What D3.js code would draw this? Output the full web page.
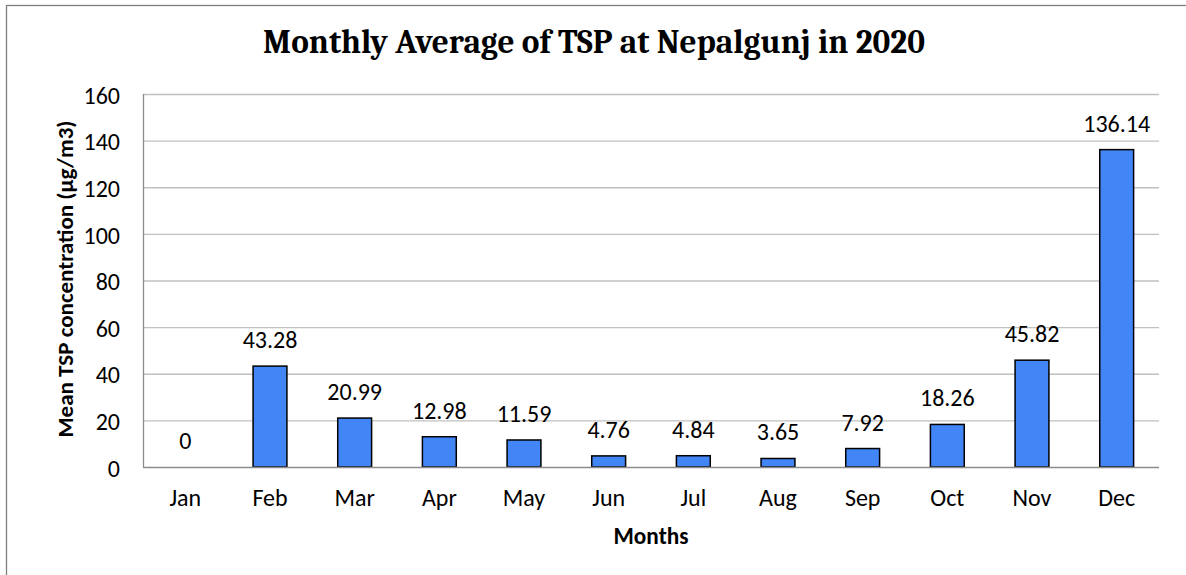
<!DOCTYPE html>
<html>
<head>
<meta charset="utf-8">
<script src="https://cdn.jsdelivr.net/npm/d3@7"></script>
<style>
  html, body { margin: 0; padding: 0; background: #fff; }
  svg { display: block; }
</style>
</head>
<body>
<svg id="chart" width="1186" height="575"></svg>
<script>
// Monthly mean TSP values, Nepalgunj 2020
const months = ["Jan","Feb","Mar","Apr","May","Jun","Jul","Aug","Sep","Oct","Nov","Dec"];
const tspValues = [0, 43.28, 20.99, 12.98, 11.59, 4.76, 4.84, 3.65, 7.92, 18.26, 45.82, 136.14];
const valueLabels = ["0","43.28","20.99","12.98","11.59","4.76","4.84","3.65","7.92","18.26","45.82","136.14"];
const yTicks = [0, 20, 40, 60, 80, 100, 120, 140, 160];

const titleText = "Monthly Average of TSP at Nepalgunj in 2020";
const xTitle = "Months";
const yTitle = "Mean TSP concentration (\u00b5g/m3)";

const sans = "Carlito, Calibri, Lato, 'Open Sans', sans-serif";
const serif = "Cambria, Caladea, 'Liberation Serif', 'DejaVu Serif', serif";

const svg = d3.select("#chart");
const plot = { left: 143, top: 94, right: 1159, bottom: 467 };

// fit a text element to a target width by adjusting its font size
function fitWidth(sel, target) {
  const node = sel.node();
  const fs = parseFloat(sel.attr("font-size"));
  const w = node.getComputedTextLength();
  if (w > 0) sel.attr("font-size", (fs * target / w).toFixed(2));
}

// outer chart frame
svg.append("rect")
  .attr("x", 6.5).attr("y", 5.5)
  .attr("width", 1186).attr("height", 600)
  .attr("fill", "none").attr("stroke", "#7f7f7f").attr("stroke-width", 1.3);

const x = d3.scaleBand().domain(months).range([plot.left, plot.right]).paddingInner(0.6).paddingOuter(0.3);
const y = d3.scaleLinear().domain([0, 160]).range([plot.bottom, plot.top]);

// horizontal gridlines
svg.append("g").selectAll("line").data(yTicks.filter(d => d > 0)).join("line")
  .attr("x1", plot.left).attr("x2", plot.right)
  .attr("y1", d => y(d) + 0.5).attr("y2", d => y(d) + 0.5)
  .attr("stroke", "#c0c0c0").attr("stroke-width", 1.3);

// left axis line
svg.append("line")
  .attr("x1", plot.left + 0.5).attr("x2", plot.left + 0.5)
  .attr("y1", plot.top).attr("y2", plot.bottom)
  .attr("stroke", "#8c8c8c").attr("stroke-width", 1.3);

// y tick labels
const yAxis = d3.axisLeft(y).tickValues(yTicks).tickSize(0).tickPadding(23);
const gy = svg.append("g").attr("transform", `translate(${plot.left},0)`).call(yAxis);
gy.select(".domain").remove();
gy.selectAll("text").attr("font-family", sans).attr("font-size", 24).attr("fill", "#000").attr("dy", "0.38em");

// bars
svg.append("g").selectAll("rect").data(tspValues).join("rect")
  .attr("x", (d, i) => x(months[i]))
  .attr("y", d => y(d))
  .attr("width", x.bandwidth())
  .attr("height", d => y(0) - y(d))
  .attr("fill", d => d > 0 ? "#4285f4" : "none")
  .attr("stroke", d => d > 0 ? "#000" : "none")
  .attr("stroke-width", 1.5);

// x axis line
svg.append("line")
  .attr("x1", plot.left).attr("x2", plot.right)
  .attr("y1", plot.bottom + 0.5).attr("y2", plot.bottom + 0.5)
  .attr("stroke", "#8c8c8c").attr("stroke-width", 1.5);

// x tick labels
const xAxis = d3.axisBottom(x).tickSize(0).tickPadding(22);
const gx = svg.append("g").attr("transform", `translate(0,${plot.bottom})`).call(xAxis);
gx.select(".domain").remove();
gx.selectAll("text").attr("font-family", sans).attr("font-size", 24).attr("fill", "#000");

// value labels
svg.append("g").selectAll("text").data(tspValues).join("text")
  .attr("x", (d, i) => x(months[i]) + x.bandwidth() / 2)
  .attr("y", d => y(d) - 18)
  .attr("text-anchor", "middle")
  .attr("font-family", sans).attr("font-size", 24).attr("fill", "#000")
  .text((d, i) => valueLabels[i]);

// chart title
const title = svg.append("text")
  .attr("x", 594).attr("y", 53)
  .attr("text-anchor", "middle")
  .attr("font-family", serif).attr("font-weight", "bold").attr("font-size", 33)
  .attr("fill", "#000")
  .text(titleText);
fitWidth(title, 662);

// axis titles
const xt = svg.append("text")
  .attr("x", 651).attr("y", 544)
  .attr("text-anchor", "middle")
  .attr("font-family", sans).attr("font-weight", "bold").attr("font-size", 23)
  .attr("fill", "#000")
  .text(xTitle);
fitWidth(xt, 75);

const yt = svg.append("text")
  .attr("transform", "translate(73,279) rotate(-90)")
  .attr("text-anchor", "middle")
  .attr("font-family", sans).attr("font-weight", "bold").attr("font-size", 23)
  .attr("fill", "#000")
  .text(yTitle);
fitWidth(yt, 317);
</script>
</body>
</html>
